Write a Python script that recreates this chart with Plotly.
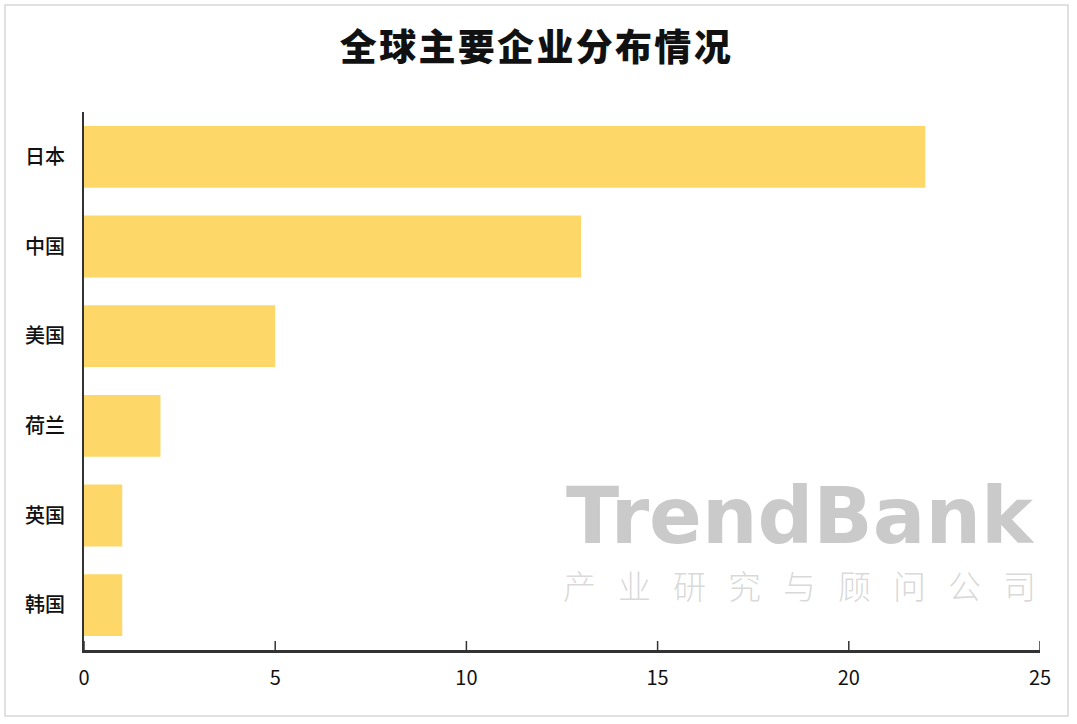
import plotly.graph_objects as go

countries = ["日本", "中国", "美国", "荷兰", "英国", "韩国"]
counts = [22, 13, 5, 2, 1, 1]
x_ticks = [0, 5, 10, 15, 20, 25]
title_text = "全球主要企业分布情况"
wm_main = "TrendBank"
wm_sub = "产业研究与顾问公司"

FONT = "Noto Sans CJK SC"

fig = go.Figure()
fig.add_trace(go.Bar(
    y=countries, x=counts, orientation="h",
    marker=dict(color="#FDD868", line=dict(width=0)),
    width=0.69,
))

W, H = 1077, 724
L, R, T, B = 84, 37, 112, 74
pw, ph = W - L - R, H - T - B

def px(x):
    return (x - L) / pw

def py(y):
    return (H - B - y) / ph

title_spaced = "\u200a".join(title_text)
sub_spaced = "\u2002\u2006".join(wm_sub)

fig.update_layout(
    width=W, height=H,
    margin=dict(l=L, r=R, t=T, b=B),
    paper_bgcolor="white", plot_bgcolor="white",
    showlegend=False,
    title=dict(text=title_spaced, x=0.497, xanchor="center",
               y=1 - 48 / H, yanchor="middle",
               font=dict(family=FONT, size=37, color="#111111", weight=900)),
    xaxis=dict(range=[0, 25], tickvals=x_ticks, ticks="", showline=True,
               linecolor="#333", linewidth=2.5, showgrid=False, zeroline=False,
               tickfont=dict(family=FONT, size=20, color="#111"),
               ticklabelstandoff=8, fixedrange=True),
    yaxis=dict(categoryorder="array", categoryarray=countries[::-1],
               showline=True, linecolor="#333", linewidth=2, ticks="",
               showgrid=False, zeroline=False,
               tickfont=dict(family=FONT, size=20, color="#111", weight=500),
               ticklabelstandoff=13),
    bargap=0.31,
)

# inward tick marks on the x axis
for v in x_ticks:
    fig.add_shape(type="line", xref="x", yref="paper", x0=v, x1=v,
                  y0=0, y1=9 / ph, line=dict(color="#333", width=1.5))

# outer border
fig.add_shape(type="rect", xref="paper", yref="paper",
              x0=px(5), x1=px(1068), y0=py(716), y1=py(5),
              line=dict(color="#d8d8d8", width=1.5), layer="below")

# watermark
fig.add_annotation(xref="paper", yref="paper", x=px(800), y=py(516),
                   xanchor="center", yanchor="middle",
                   text="<b>" + wm_main + "</b>", showarrow=False,
                   font=dict(family="DejaVu Sans", size=78, color="rgba(150,150,150,0.5)"))
fig.add_annotation(xref="paper", yref="paper", x=px(799), y=py(585),
                   xanchor="center", yanchor="middle",
                   text=sub_spaced, showarrow=False,
                   font=dict(family=FONT, size=33, weight=300, color="rgba(170,170,170,0.45)"))

fig.write_html("out.html", config={"displayModeBar": False},
               post_script="document.body.style.margin='0';")
